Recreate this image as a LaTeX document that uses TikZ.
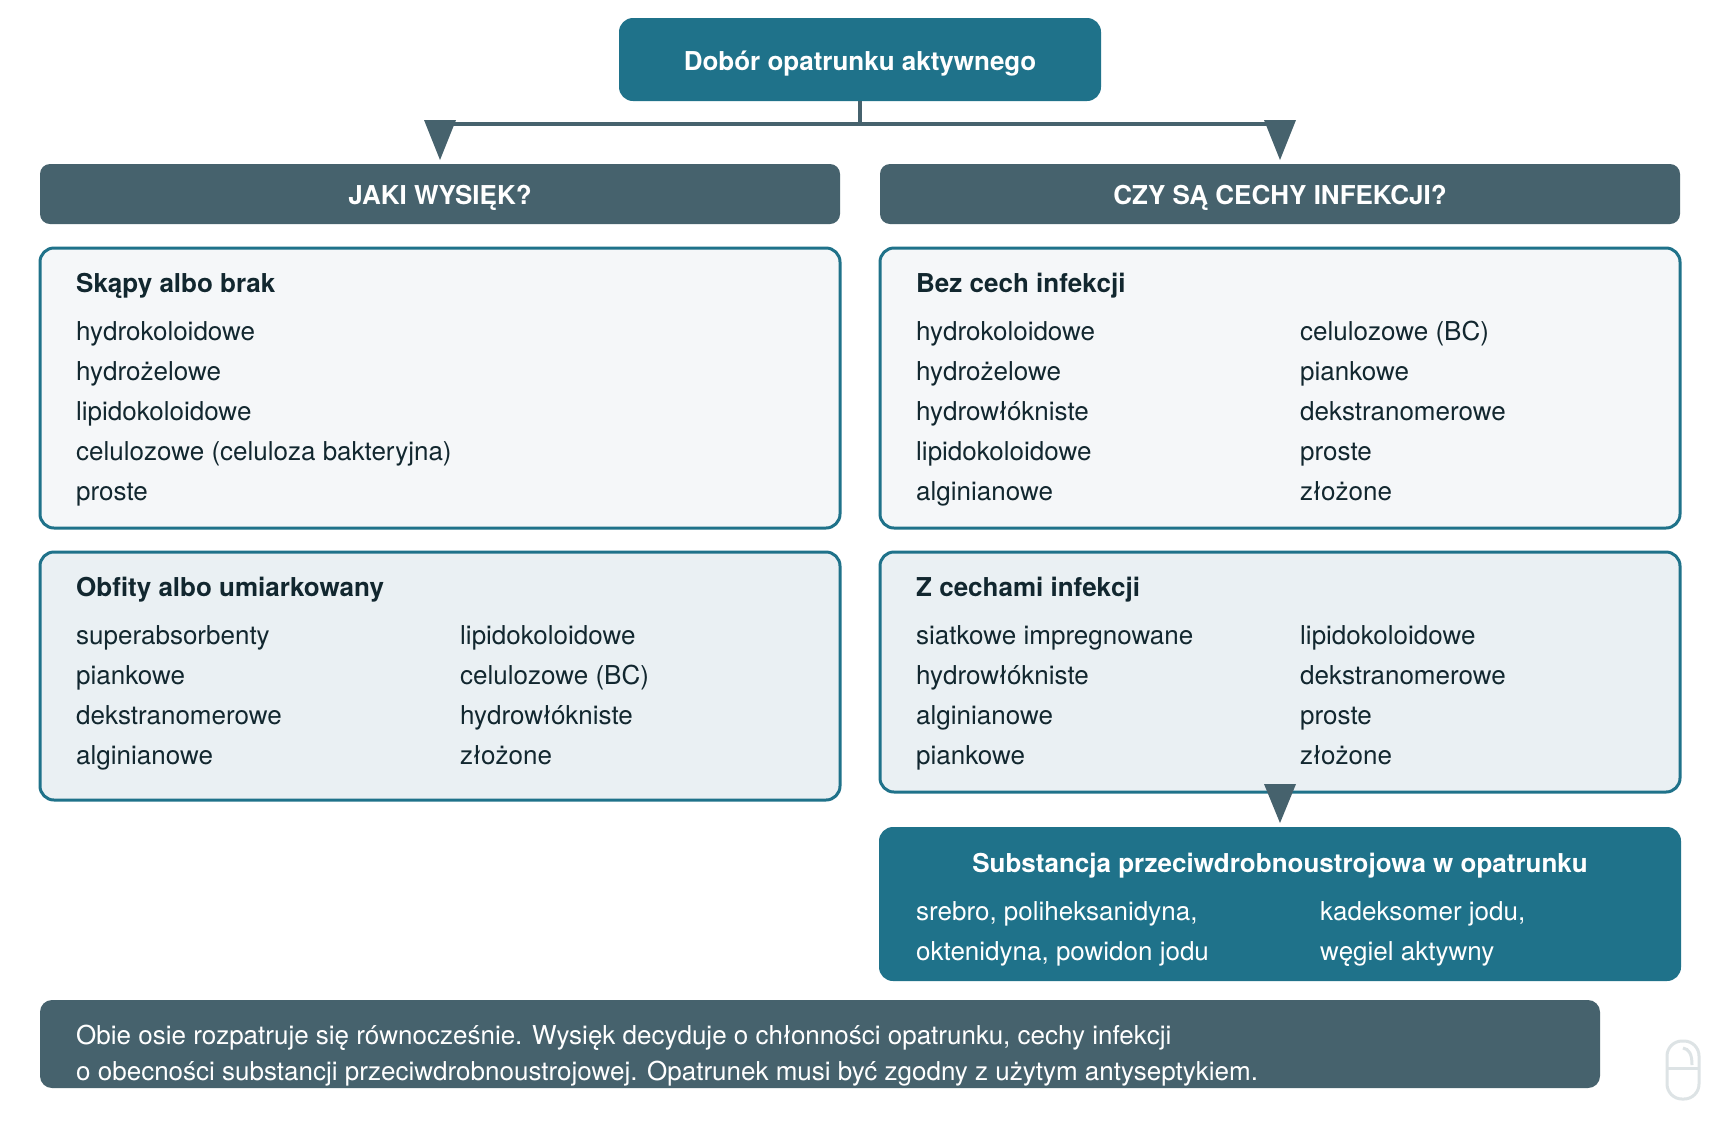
\documentclass[tikz,border=0pt]{standalone}
\usepackage{fontspec}
\usetikzlibrary{calc}
\setmainfont{TeX Gyre Heros}
\definecolor{teal1}{HTML}{1F728A}
\definecolor{slate1}{HTML}{46626D}
\definecolor{pale1}{HTML}{F5F7F9}
\definecolor{pale2}{HTML}{EAF0F3}
\definecolor{ink1}{HTML}{12272F}
\definecolor{mouse1}{HTML}{DDE3E5}
\newcommand{\lab}[5][listtext]{\node[#1] (#2) at (#3,#4) {#5};}
\tikzset{
  sharp box/.style={inner sep=0pt,outer sep=0pt,rounded corners=#1},
  topbox/.style={sharp box=14pt,fill=teal1,minimum width=482pt,minimum height=83pt},
  headbox/.style={sharp box=10pt,fill=slate1,minimum width=800pt,minimum height=60pt},
  listbox/.style={sharp box=14pt,draw=teal1,line width=3pt,minimum width=800pt},
  basetext/.style={anchor=base west,inner sep=0pt,font=\fontsize{26}{31}\selectfont},
  listtext/.style={basetext,text=ink1,yshift=-1.6pt},
  listhead/.style={listtext,font=\fontsize{26}{31}\selectfont\bfseries},
  whitetext/.style={basetext,text=white},
  whitehead/.style={anchor=base,inner sep=0pt,text=white,font=\fontsize{26}{31}\selectfont\bfseries},
  conn/.style={draw=slate1,line width=4pt},
  tipmark/.style={fill=slate1},
}
\begin{document}
\begin{tikzpicture}[x=1pt,y=-1pt]
\useasboundingbox (0,0) rectangle (1720,1120);
\fill[white] (0,0) rectangle (1720,1120);
% boxes
\node[topbox] (top) at (860,59.5) {};
\node[headbox] (hL) at (440,194) {};
\node[headbox] (hR) at (1280,194) {};
\node[listbox,fill=pale1,minimum height=280pt] (b1) at (440,388) {};
\node[listbox,fill=pale1,minimum height=280pt] (b2) at (1280,388) {};
\node[listbox,fill=pale2,minimum height=248pt] (b3) at (440,676) {};
\node[listbox,fill=pale2,minimum height=240pt] (b4) at (1280,672) {};
\node[sharp box=14pt,fill=teal1,minimum width=802pt,minimum height=154pt] (sub) at (1280,904) {};
\node[sharp box=12pt,fill=slate1,minimum width=1560pt,minimum height=88pt] (note) at (820,1044) {};
% connectors
\coordinate (tipL) at (hL.north |- 0,160);
\coordinate (tipR) at (hR.north |- 0,160);
\coordinate (tipS) at (sub.north |- 0,823);
\draw[conn] ($(tipL)+(0,-36)$) -- ($(tipR)+(0,-36)$);
\draw[conn] (top.south) -- (top.south |- 0,124);
\fill[tipmark] (tipL) -- ++(-16,-40) -- ++(32,0) -- cycle;
\fill[tipmark] (tipR) -- ++(-16,-40) -- ++(32,0) -- cycle;
\fill[tipmark] (tipS) -- ++(-16,-39) -- ++(32,0) -- cycle;
% titles
\node[whitehead] (tTop) at (860,70) {Dobór opatrunku aktywnego};
\node[whitehead] (tL) at (440,204) {JAKI WYSIĘK?};
\node[whitehead] (tR) at (1280,204) {CZY SĄ CECHY INFEKCJI?};
% box 1
\lab[listhead]{a0}{76}{291}{Skąpy albo brak}
\lab{a1}{76}{339}{hydrokoloidowe}
\lab{a2}{76}{379}{hydrożelowe}
\lab{a3}{76}{419}{lipidokoloidowe}
\lab{a4}{76}{459}{celulozowe (celuloza bakteryjna)}
\lab{a5}{76}{499}{proste}
% box 2
\lab[listhead]{b0}{916}{291}{Bez cech infekcji}
\lab{b1a}{916}{339}{hydrokoloidowe}
\lab{b2a}{916}{379}{hydrożelowe}
\lab{b3a}{916}{419}{hydrowłókniste}
\lab{b4a}{916}{459}{lipidokoloidowe}
\lab{b5a}{916}{499}{alginianowe}
\lab{b1b}{1300}{339}{celulozowe (BC)}
\lab{b2b}{1300}{379}{piankowe}
\lab{b3b}{1300}{419}{dekstranomerowe}
\lab{b4b}{1300}{459}{proste}
\lab{b5b}{1300}{499}{złożone}
% box 3
\lab[listhead]{c0}{76}{595}{Obfity albo umiarkowany}
\lab{c1a}{76}{643}{superabsorbenty}
\lab{c2a}{76}{683}{piankowe}
\lab{c3a}{76}{723}{dekstranomerowe}
\lab{c4a}{76}{763}{alginianowe}
\lab{c1b}{460}{643}{lipidokoloidowe}
\lab{c2b}{460}{683}{celulozowe (BC)}
\lab{c3b}{460}{723}{hydrowłókniste}
\lab{c4b}{460}{763}{złożone}
% box 4
\lab[listhead]{d0}{916}{595}{Z cechami infekcji}
\lab{d1a}{916}{643}{siatkowe impregnowane}
\lab{d2a}{916}{683}{hydrowłókniste}
\lab{d3a}{916}{723}{alginianowe}
\lab{d4a}{916}{763}{piankowe}
\lab{d1b}{1300}{643}{lipidokoloidowe}
\lab{d2b}{1300}{683}{dekstranomerowe}
\lab{d3b}{1300}{723}{proste}
\lab{d4b}{1300}{763}{złożone}
% substance box
\node[whitehead] (s0) at (1280,872) {Substancja przeciwdrobnoustrojowa w opatrunku};
\lab[whitetext]{s1a}{916}{920}{srebro, poliheksanidyna,}
\lab[whitetext]{s2a}{916}{960}{oktenidyna, powidon jodu}
\lab[whitetext]{s1b}{1320}{920}{kadeksomer jodu,}
\lab[whitetext]{s2b}{1320}{960}{węgiel aktywny}
% note
\lab[whitetext]{n1}{76}{1044}{Obie osie rozpatruje się równocześnie. Wysięk decyduje o chłonności opatrunku, cechy infekcji}
\lab[whitetext]{n2}{76}{1080}{o obecności substancji przeciwdrobnoustrojowej. Opatrunek musi być zgodny z użytym antyseptykiem.}
% mouse icon
\draw[mouse1,line width=3pt,rounded corners=15pt] (1667,1041) rectangle (1699,1099);
\draw[mouse1,line width=3pt] (1667,1068) -- (1699,1068);
\draw[mouse1,line width=3pt] (1683,1048) .. controls (1689,1049) and (1692,1054) .. (1692,1065);
\end{tikzpicture}
\end{document}
